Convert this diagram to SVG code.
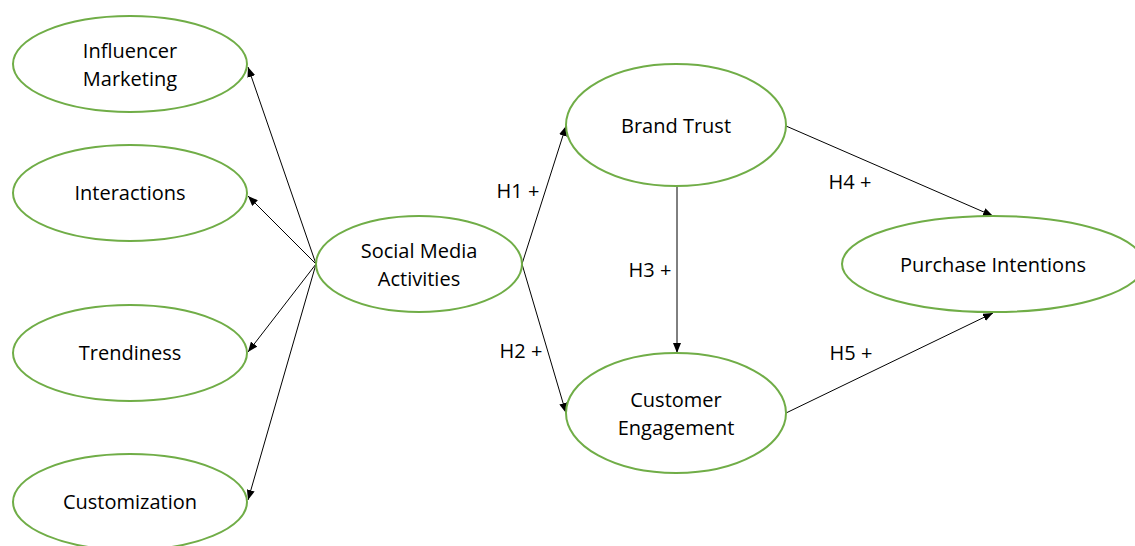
<svg xmlns="http://www.w3.org/2000/svg" width="1135" height="546" viewBox="0 0 1135 546">
<defs>
<marker id="ah" markerWidth="10" markerHeight="8" refX="10" refY="4" orient="auto" markerUnits="userSpaceOnUse">
<path d="M0,0 L10,4 L0,8 Z" fill="#000"/>
</marker>
<style>
.node ellipse{fill:#fff;stroke:#70AD47;stroke-width:2}
text{font-family:"Open Sans","Liberation Sans",sans-serif;font-size:20px;fill:#000;text-anchor:middle}
.conn line{stroke:#000;stroke-width:1;marker-end:url(#ah)}
</style>
</defs>
<rect width="1135" height="546" fill="#fff"/>
<g id="connectors" class="conn">
<line x1="316" y1="264" x2="248" y2="67"/>
<line x1="316" y1="264" x2="248" y2="196"/>
<line x1="316" y1="264" x2="248" y2="352"/>
<line x1="316" y1="264" x2="248" y2="500"/>
<line x1="522" y1="264" x2="566" y2="126"/>
<line x1="522" y1="264" x2="566" y2="413"/>
<line x1="677" y1="186" x2="677" y2="353"/>
<line x1="786" y1="126" x2="993" y2="216"/>
<line x1="786" y1="413" x2="993" y2="313"/>
</g>
<g id="labels">
<text x="518" y="198">H1 +</text>
<text x="521" y="358">H2 +</text>
<text x="650" y="277">H3 +</text>
<text x="850" y="189">H4 +</text>
<text x="851" y="360">H5 +</text>
</g>
<g id="n-influencer" class="node"><ellipse cx="130" cy="64" rx="117" ry="48"/><text x="130" y="58">Influencer</text><text x="130" y="86">Marketing</text></g>
<g id="n-interactions" class="node"><ellipse cx="130" cy="193" rx="117" ry="48"/><text x="130" y="200">Interactions</text></g>
<g id="n-trendiness" class="node"><ellipse cx="130" cy="353" rx="117" ry="48"/><text x="130" y="360">Trendiness</text></g>
<g id="n-customization" class="node"><ellipse cx="130" cy="502" rx="117" ry="48"/><text x="130" y="509">Customization</text></g>
<g id="n-sma" class="node"><ellipse cx="419" cy="264" rx="103" ry="48"/><text x="419" y="258">Social Media</text><text x="419" y="286">Activities</text></g>
<g id="n-brandtrust" class="node"><ellipse cx="676" cy="125" rx="110" ry="61"/><text x="676" y="133">Brand Trust</text></g>
<g id="n-engagement" class="node"><ellipse cx="676" cy="413" rx="110" ry="60"/><text x="676" y="407">Customer</text><text x="676" y="435">Engagement</text></g>
<g id="n-purchase" class="node"><ellipse cx="993" cy="264" rx="151" ry="48"/><text x="993" y="272">Purchase Intentions</text></g>
</svg>
